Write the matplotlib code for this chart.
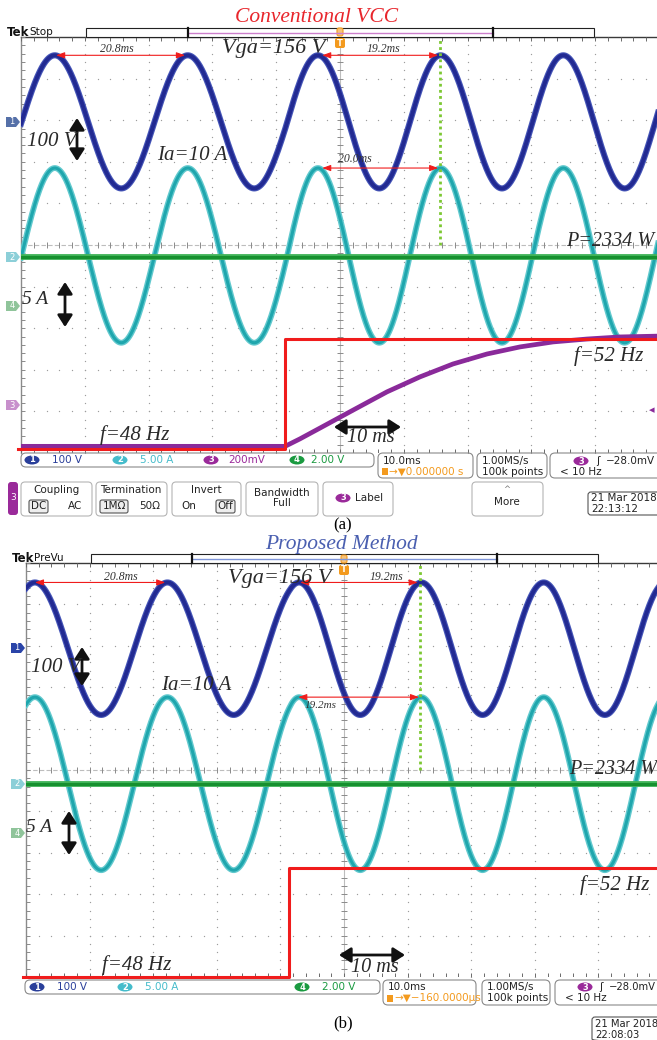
"""
Scope captures: grid voltage / current / power / frequency during a 48 -> 52 Hz step.
(a) conventional VCC, (b) proposed method.
"""
import numpy as np
import matplotlib
matplotlib.use("Agg")
import matplotlib.pyplot as plt
from matplotlib.patches import FancyBboxPatch, FancyArrowPatch, Ellipse, Polygon, Rectangle

# ── Data ──────────────────────────────────────────────────────────────────────
# time in ms relative to the trigger (10 ms/div), amplitude in divisions
FREQ_BEFORE = 48.0        # Hz
FREQ_AFTER = 52.0         # Hz
T_SWITCH = -8.6           # ms, instant of the frequency step

# panel (a) conventional VCC
A_V_OFFSET, A_V_AMP = 2.96, 1.60
A_I_OFFSET, A_I_AMP = -0.25, 2.10
A_P_LEVEL = -0.29
A_FIRST_PEAK = -44.7
A_STEP_LEVELS = [-4.90, -2.26]
A_FREQ_T = [-50.0, -8.62, -6.27, -3.13, 2.04, 7.37, 12.54, 17.71, 23.04,
            28.21, 33.39, 38.71, 43.89, 50.0]
A_FREQ_DIV = [-4.84, -4.84, -4.66, -4.40, -3.97, -3.53, -3.17, -2.86, -2.62,
              -2.45, -2.33, -2.26, -2.21, -2.19]
A_MEAS_V = [(-44.5, -24.3, "20.8ms"), (-2.8, 15.4, "19.2ms")]
A_MEAS_I = [(-2.8, 15.4, "20.0ms")]
A_CURSOR_T = 15.7

# panel (b) proposed method
B_V_OFFSET, B_V_AMP = 2.93, 1.60
B_I_OFFSET, B_I_AMP = -0.33, 2.09
B_P_LEVEL = -0.34
B_FIRST_PEAK = -48.6
B_STEP_LEVELS = [-5.00, -2.37]
B_MEAS_V = [(-48.6, -28.1, "20.8ms"), (-6.9, 11.6, "19.2ms")]
B_MEAS_I = [(-7.2, 11.8, "19.2ms")]
B_CURSOR_T = 11.9

BLUE, BLUE_EDGE = "#222a92", "#4656b8"
CYAN, CYAN_EDGE = "#1fa6ad", "#62c9ce"
GREEN, GREEN_EDGE = "#16902f", "#42b45a"
PURPLE = "#8a2a9a"
RED = "#f01c1c"
GRID = "#9c9c9c"
SERIF = "Liberation Serif"

W, H = 657, 1040
fig = plt.figure(figsize=(W / 100, H / 100), dpi=100)


def px_axes(x0, y0, x1, y1):
    return fig.add_axes([x0 / W, 1 - y1 / H, (x1 - x0) / W, (y1 - y0) / H])


def scope_cos(t, first_peak):
    cyc = np.where(t < T_SWITCH,
                   (t - first_peak) * FREQ_BEFORE / 1000,
                   (T_SWITCH - first_peak) * FREQ_BEFORE / 1000
                   + (t - T_SWITCH) * FREQ_AFTER / 1000)
    return np.cos(2 * np.pi * cyc)


def draw_grid(ax):
    ax.set_xlim(-50, 50)
    ax.set_ylim(-5, 5)
    ax.axis("off")
    mx = np.arange(-50, 50.01, 2)
    my = np.arange(-5, 5.01, 0.2)
    for gx in range(-40, 41, 10):
        if gx != 0:
            ax.scatter(np.full_like(my, gx), my, s=0.9, color=GRID, lw=0, zorder=1)
    for gy in range(-4, 5):
        if gy != 0:
            ax.scatter(mx, np.full_like(mx, gy), s=0.9, color=GRID, lw=0, zorder=1)
    # centre cross with ticks
    ax.plot([-50, 50], [0, 0], color="#bdbdbd", lw=0.8, ls=(0, (4, 2)), zorder=1)
    ax.plot([0, 0], [-5, 5], color="#bdbdbd", lw=0.8, zorder=1)
    ax.vlines(mx, -0.07, 0.07, color="#8a8a8a", lw=0.7, zorder=1)
    ax.hlines(my, -0.5, 0.5, color="#8a8a8a", lw=0.7, zorder=1)
    # borders
    ax.plot([-50, -50], [-5, 5], color="#8a8a8a", lw=1.0, clip_on=False, zorder=1)
    ax.plot([-50, 50], [5, 5], color="#3a3a3a", lw=1.0, clip_on=False, zorder=1)
    ax.hlines(my, -50, -49.4, color="#8a8a8a", lw=0.7, zorder=1)
    ax.vlines(mx, 4.9, 5, color="#6a6a6a", lw=0.7, zorder=1)
    ax.vlines(mx, -5, -4.9, color="#6a6a6a", lw=0.7, zorder=1)


def draw_traces(ax, v_off, v_amp, i_off, i_amp, p_lvl, first_peak, step_lvls):
    t = np.linspace(-50, 50, 5000)
    wave = scope_cos(t, first_peak)
    ax.plot(t, i_off + i_amp * wave, color=CYAN_EDGE, lw=4.2, zorder=2)
    ax.plot(t, i_off + i_amp * wave, color=CYAN, lw=2.2, zorder=2)
    ax.plot(t, v_off + v_amp * wave, color=BLUE_EDGE, lw=4.4, zorder=3)
    ax.plot(t, v_off + v_amp * wave, color=BLUE, lw=2.8, zorder=3)
    ax.plot([-50, 50], [p_lvl, p_lvl], color=GREEN_EDGE, lw=4.2, zorder=4)
    ax.plot([-50, 50], [p_lvl, p_lvl], color=GREEN, lw=2.2, zorder=4)
    ax.step([-50.4, T_SWITCH, 50], [step_lvls[0], step_lvls[1], step_lvls[1]],
            where="post", color=RED, lw=2.2, zorder=6, clip_on=False)


def draw_measure(ax, meas, level, text_dy, fs, text_dx):
    for (t0, t1, lab), dx in zip(meas, text_dx):
        ax.annotate("", xy=(t0, level), xytext=(t1, level),
                    arrowprops=dict(arrowstyle="<|-|>,head_length=0.5,head_width=0.18",
                                    color=RED, lw=0.8, shrinkA=0, shrinkB=0), zorder=7)
        ax.text((t0 + t1) / 2 + dx, level + text_dy, lab, fontsize=fs,
                family=SERIF, style="italic", color="#333333", ha="center",
                va="center", zorder=8)


def draw_cursor(ax, t_c, top):
    ax.plot([t_c, t_c], [0, top], color="#7cc832", lw=2.0, ls=(0, (1, 1.2)),
            clip_on=False, zorder=7)


# ── Scope panels ──────────────────────────────────────────────────────────────
ax_a = px_axes(21, 37, 659, 453)
draw_grid(ax_a)
draw_traces(ax_a, A_V_OFFSET, A_V_AMP, A_I_OFFSET, A_I_AMP, A_P_LEVEL,
            A_FIRST_PEAK, A_STEP_LEVELS)
ax_a.plot(A_FREQ_T, A_FREQ_DIV, color=PURPLE, lw=3.4, zorder=5)
draw_measure(ax_a, A_MEAS_V, A_V_OFFSET + A_V_AMP, 0.14, 8.5, [-0.5, 0.5])
draw_measure(ax_a, A_MEAS_I, A_I_OFFSET + A_I_AMP, 0.22, 8.5, [-4.0])
draw_cursor(ax_a, A_CURSOR_T, 5.22)

ax_b = px_axes(26, 563, 662, 977)
draw_grid(ax_b)
draw_traces(ax_b, B_V_OFFSET, B_V_AMP, B_I_OFFSET, B_I_AMP, B_P_LEVEL,
            B_FIRST_PEAK, B_STEP_LEVELS)
draw_measure(ax_b, B_MEAS_V, B_V_OFFSET + B_V_AMP, 0.14, 8.5, [3.2, 4.4])
draw_measure(ax_b, B_MEAS_I, B_I_OFFSET + B_I_AMP, -0.2, 8.0, [-6.0])
draw_cursor(ax_b, B_CURSOR_T, 5.19)

# ── Overlay in pixel coordinates ──────────────────────────────────────────────
ov = fig.add_axes([0, 0, 1, 1])
ov.set_xlim(0, W)
ov.set_ylim(H, 0)
ov.axis("off")
ov.set_zorder(10)
ov.patch.set_alpha(0)

SANS = "DejaVu Sans"


def txt(x, y, s, size=7.5, color="#222222", ha="left", **kw):
    ov.text(x, y, s, fontsize=size, color=color, ha=ha, va="center", family=SANS, **kw)


def note(x, y, s, size=15, ha="left", color="#2a2a2a"):
    ov.text(x, y, s, fontsize=size, color=color, ha=ha, va="center",
            family=SERIF, style="italic")


def rbox(x0, y0, x1, y1, ec="#8a8a8a", fc="none", lw=0.8, r=3):
    ov.add_patch(FancyBboxPatch((x0, y0), x1 - x0, y1 - y0,
                                boxstyle=f"round,pad=0,rounding_size={r}",
                                ec=ec, fc=fc, lw=lw))


def badge(x, y, n, color):
    ov.add_patch(Ellipse((x, y), 15, 9, fc=color, ec="none"))
    ov.text(x, y, str(n), fontsize=6, color="white", ha="center", va="center",
            family=SANS, fontweight="bold")


def tag(x, y, n, color):
    ov.add_patch(Polygon([(x, y - 5), (x + 10, y - 5), (x + 14, y), (x + 10, y + 5),
                          (x, y + 5)], closed=True, fc=color, ec="none"))
    ov.text(x + 6, y, str(n), fontsize=6, color="white", ha="center", va="center",
            family=SANS)


def dbl_arrow(p0, p1):
    ov.add_patch(FancyArrowPatch(p0, p1, arrowstyle="<|-|>,head_length=0.7,head_width=0.45",
                                 mutation_scale=10, color="#111111", lw=2.0,
                                 shrinkA=0, shrinkB=0))


def trig_icon(x, y):
    ov.add_patch(FancyBboxPatch((x - 3, y), 6, 8, boxstyle="round,pad=0,rounding_size=2",
                                fc="#f6c27a", ec="#f39a1e", lw=0.8))
    ov.add_patch(FancyBboxPatch((x - 5, y + 10), 10, 10, boxstyle="round,pad=0,rounding_size=2",
                                fc="#f39a1e", ec="none"))
    ov.text(x, y + 15, "T", fontsize=6, color="white", ha="center", va="center",
            family=SANS, fontweight="bold")


def header(y_top, x_tek, x0, x_mid1, x_mid2, x1, line_col, label):
    ov.text(x_tek, y_top + 4, "Tek", fontsize=8.5, fontweight="bold", family=SANS,
            va="center", color="#111111")
    ov.text(x_tek + 22, y_top + 4, label, fontsize=7.5, family=SANS, va="center",
            color="#111111")
    ov.add_patch(Rectangle((x0, y_top), x1 - x0, 9, fc="white", ec="#222222", lw=0.8))
    ov.plot([x_mid1, x_mid2], [y_top + 4.5, y_top + 4.5], color=line_col, lw=1.0)
    ov.plot([x_mid1, x_mid1], [y_top, y_top + 9], color="#111111", lw=1.6)
    ov.plot([x_mid2, x_mid2], [y_top, y_top + 9], color="#111111", lw=1.6)


# ---- panel (a) decorations
ov.text(317, 17, "Conventional VCC", fontsize=15.5, color="#e8262c", ha="center",
        va="center", family=SERIF, style="italic")
header(28, 7, 86, 188, 493, 594, "#cc7fcc", "Stop")
trig_icon(340, 28)
tag(6, 122, 1, "#5570a8")
tag(6, 257, 2, "#8ccfd8")
tag(6, 306, 4, "#8fc49a")
tag(6, 405, 3, "#c890cc")
ov.text(652, 410, "◂", fontsize=8, color=PURPLE, ha="center", va="center", family=SANS)

note(222, 48, "Vga=156 V", size=16)
note(27, 141, "100 V")
dbl_arrow((77, 118), (77, 161))
note(157, 156, "Ia=10 A")
note(566, 242, "P=2334 W", size=14.5)
note(22, 299, "5 A", size=14)
dbl_arrow((65, 282), (65, 327))
note(574, 356, "f=52 Hz")
note(100, 435, "f=48 Hz")
note(347, 438, "10 ms", size=14.5)
dbl_arrow((334, 427), (401, 427))

# status bar (a)
rbox(21, 453, 374, 467, r=5)
badge(32, 460, 1, "#2a3f9a"); txt(52, 460, "100 V", color="#2a3f9a")
badge(120, 460, 2, "#45bccb"); txt(140, 460, "5.00 A", color="#45bccb")
badge(211, 460, 3, "#9a2a9a"); txt(228, 460, "200mV", color="#9a2a9a")
badge(297, 460, 4, "#1a9a40"); txt(311, 460, "2.00 V", color="#1a9a40")
rbox(378, 453, 473, 478, r=5)
txt(383, 461, "10.0ms")
ov.add_patch(Rectangle((382, 468), 6, 7, fc="#f39a1e", ec="none"))
txt(389, 472, "→▼0.000000 s", color="#f39a1e")
rbox(477, 453, 547, 478, r=5)
txt(482, 461, "1.00MS/s")
txt(482, 472, "100k points")
rbox(550, 453, 662, 478, r=5)
badge(581, 461, 3, "#9a2a9a"); txt(596, 461, "ʃ"); txt(606, 461, "−28.0mV")
txt(560, 472, "< 10 Hz")

# menu row (a)
ov.add_patch(FancyBboxPatch((8, 482), 10, 33, boxstyle="round,pad=0,rounding_size=3",
                            fc="#9a2a9a", ec="none"))
ov.text(13, 498, "3", fontsize=6.5, color="white", ha="center", va="center", family=SANS)
for x0, x1 in [(21, 92), (96, 167), (172, 241), (246, 318), (323, 393), (472, 543)]:
    rbox(x0, 482, x1, 516, ec="#b5b5b5", r=4)
txt(56, 490, "Coupling", ha="center")
rbox(29, 500, 48, 513, ec="#555555", fc="#eeeeee", r=2)
txt(38.5, 506, "DC", ha="center"); txt(75, 506, "AC", ha="center")
txt(131, 490, "Termination", ha="center")
rbox(100, 500, 128, 513, ec="#555555", fc="#eeeeee", r=2)
txt(114, 506, "1MΩ", ha="center"); txt(150, 506, "50Ω", ha="center")
txt(206, 490, "Invert", ha="center")
txt(189, 506, "On", ha="center")
rbox(216, 500, 235, 513, ec="#555555", fc="#eeeeee", r=2)
txt(225.5, 506, "Off", ha="center")
txt(282, 493, "Bandwidth", ha="center"); txt(282, 503, "Full", ha="center")
badge(343, 498, 3, "#9a2a9a"); txt(355, 498, "Label")
txt(507, 490, "^", ha="center", size=6, color="#777777"); txt(507, 502, "More", ha="center")
rbox(588, 492, 662, 515, ec="#555555", r=3)
txt(591, 498, "21 Mar 2018"); txt(591, 509, "22:13:12")
ov.text(343, 525, "(a)", fontsize=12, ha="center", va="center", family=SERIF)

# ---- panel (b) decorations
ov.text(341, 545, "Proposed Method", fontsize=15.5, color="#4a5fb0", ha="center",
        va="center", family=SERIF, style="italic")
header(554, 12, 91, 192, 497, 598, "#7f95d8", "PreVu")
trig_icon(344, 555)
tag(11, 648, 1, "#2a44a8")
tag(11, 784, 2, "#8ccfd8")
tag(11, 833, 4, "#8fc49a")

note(228, 578, "Vga=156 V", size=16)
note(31, 668, "100 V")
dbl_arrow((82, 647), (82, 686))
note(161, 685, "Ia=10 A")
note(569, 770, "P=2334 W", size=14.5)
note(26, 828, "5 A", size=14)
dbl_arrow((69, 811), (69, 855))
note(580, 885, "f=52 Hz")
note(102, 965, "f=48 Hz")
note(351, 968, "10 ms", size=14.5)
dbl_arrow((339, 955), (405, 955))

# status bar (b)
rbox(25, 980, 380, 994, r=5)
badge(37, 987, 1, "#2a3f9a"); txt(57, 987, "100 V", color="#2a3f9a")
badge(125, 987, 2, "#45bccb"); txt(145, 987, "5.00 A", color="#45bccb")
badge(302, 987, 4, "#1a9a40"); txt(322, 987, "2.00 V", color="#1a9a40")
rbox(383, 980, 476, 1005, r=5)
txt(388, 987, "10.0ms")
ov.add_patch(Rectangle((387, 995), 6, 7, fc="#f39a1e", ec="none"))
txt(394, 998, "→▼−160.0000µs", color="#f39a1e")
rbox(482, 980, 550, 1005, r=5)
txt(487, 987, "1.00MS/s")
txt(487, 998, "100k points")
rbox(555, 980, 662, 1005, r=5)
badge(585, 987, 3, "#9a2a9a"); txt(599, 987, "ʃ"); txt(609, 987, "−28.0mV", size=7.2)
txt(565, 998, "< 10 Hz")
rbox(592, 1017, 662, 1042, ec="#555555", r=3)
txt(595, 1024, "21 Mar 2018", size=7.2); txt(595, 1035, "22:08:03", size=7.2)
ov.text(343, 1023, "(b)", fontsize=12, ha="center", va="center", family=SERIF)

fig.savefig("out.png", dpi=100)
